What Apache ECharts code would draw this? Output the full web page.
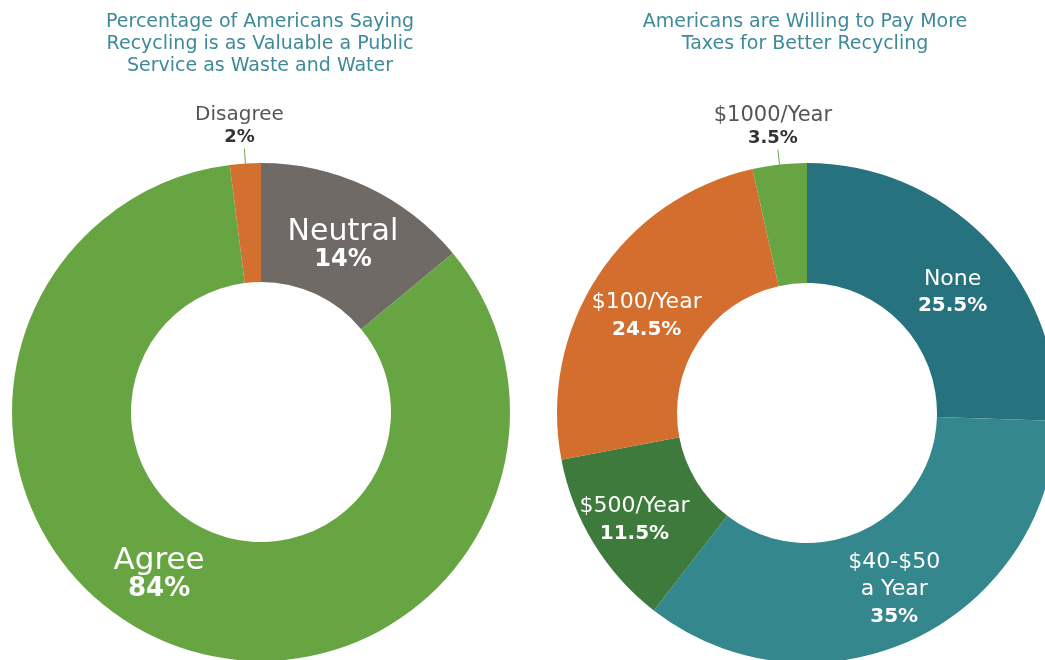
<!DOCTYPE html>
<html>
<head>
<meta charset="utf-8">
<script src="https://cdn.jsdelivr.net/npm/echarts@6/dist/echarts.min.js"></script>
<style>
  html, body { margin: 0; padding: 0; background: #fff; }
  #main { width: 1045px; height: 660px; }
</style>
</head>
<body>
<div id="main"></div>
<script>
// left donut: opinion on recycling as a public service
const opinionNames = ["Neutral", "Agree", "Disagree"];
const opinionValues = [14, 84, 2];
const opinionColors = ["#6f6a66", "#67a543", "#d3702f"];

// right donut: extra taxes people would pay
const taxNames = ["None", "$40-$50\na Year", "$500/Year", "$100/Year", "$1000/Year"];
const taxValues = [25.5, 35, 11.5, 24.5, 3.5];
const taxColors = ["#27727f", "#33878d", "#3d7a3b", "#d36e2e", "#67a543"];

const titleColor = "#3d8a9a";
const font = "DejaVu Sans";

function toData(names, values, colors) {
  return names.map((n, i) => ({
    name: n,
    value: values[i],
    itemStyle: { color: colors[i] }
  }));
}

// label styles: inside labels white, outside label dark
function insideLabel(nameSize, pctSize, lh) {
  return {
    show: true,
    position: "inside",
    formatter: "{n|{b}}\n{p|{c}%}",
    rich: {
      n: { color: "#fff", fontSize: nameSize, fontFamily: font, lineHeight: lh, align: "center" },
      p: { color: "#fff", fontSize: pctSize, fontWeight: "bold", fontFamily: font, lineHeight: lh, align: "center" }
    }
  };
}

function outsideLabel(nameSize) {
  return {
    show: true,
    position: "outside",
    formatter: "{n|{b}}\n{p|{c}%}",
    rich: {
      n: { color: "#555", fontSize: nameSize, fontFamily: font, lineHeight: 24, align: "center" },
      p: { color: "#333", fontSize: 18, fontWeight: "bold", fontFamily: font, lineHeight: 22, align: "center" }
    }
  };
}

const leaderLine = { show: true, length: 15, length2: 0, lineStyle: { color: "#6aa84f", width: 1 } };

let opinionData = toData(opinionNames, opinionValues, opinionColors);
opinionData[0].label = insideLabel(30, 24, 27);
opinionData[1].label = insideLabel(31, 26, 29);
opinionData[2].label = outsideLabel(20);
opinionData[2].labelLine = leaderLine;

let taxData = toData(taxNames, taxValues, taxColors);
for (let i = 0; i < 4; i++) taxData[i].label = insideLabel(22, 20, 27);
taxData[4].label = outsideLabel(21);
taxData[4].labelLine = leaderLine;

let myChart = echarts.init(document.getElementById("main"));

let option = {
  animation: false,
  title: [
    {
      text: "Percentage of Americans Saying\nRecycling is as Valuable a Public\nService as Waste and Water",
      left: 255,
      top: 6,
      textAlign: "center",
      textStyle: { color: titleColor, fontSize: 19, fontWeight: "normal", fontFamily: font, lineHeight: 22 }
    },
    {
      text: "Americans are Willing to Pay More\nTaxes for Better Recycling",
      left: 800,
      top: 6,
      textAlign: "center",
      textStyle: { color: titleColor, fontSize: 19, fontWeight: "normal", fontFamily: font, lineHeight: 22 }
    }
  ],
  series: [
    {
      type: "pie",
      center: [261, 412],
      radius: [130, 249],
      startAngle: 90,
      clockwise: true,
      avoidLabelOverlap: false,
      silent: true,
      data: opinionData,
      labelLayout: function (p) {
        if (p.dataIndex === 0) return { dx: 0, dy: 8 };
        if (p.dataIndex === 1) return { dx: -31, dy: -16 };
        if (p.dataIndex === 2) return { align: "center", verticalAlign: "bottom" };
        return {};
      }
    },
    {
      type: "pie",
      center: [807, 413],
      radius: [130, 250],
      startAngle: 90,
      clockwise: true,
      avoidLabelOverlap: false,
      silent: true,
      data: taxData,
      labelLayout: function (p) {
        if (p.dataIndex === 0) return { dx: 7, dy: 14 };
        if (p.dataIndex === 1) return { dx: 5, dy: 2 };
        if (p.dataIndex === 2) return { dx: -8, dy: 6 };
        if (p.dataIndex === 3) return { dx: 1, dy: 9 };
        if (p.dataIndex === 4) return { align: "center", verticalAlign: "bottom" };
        return {};
      }
    }
  ]
};

myChart.setOption(option);
</script>
</body>
</html>
